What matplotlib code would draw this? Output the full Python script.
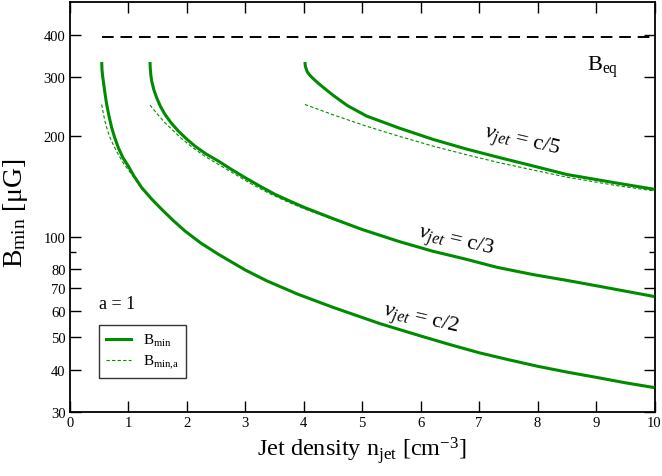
import matplotlib
matplotlib.use("Agg")
import matplotlib.pyplot as plt
from matplotlib.ticker import FixedLocator, NullFormatter
from matplotlib.lines import Line2D

plt.rcParams['font.family'] = ['Liberation Serif', 'DejaVu Serif']
plt.rcParams['mathtext.fontset'] = 'custom'
plt.rcParams['mathtext.rm'] = 'Liberation Serif'
plt.rcParams['mathtext.it'] = 'Liberation Serif:italic'
plt.rcParams['mathtext.bf'] = 'Liberation Serif:bold'

# ---- data ----
c2_x = [0.547, 0.552, 0.562, 0.575, 0.6, 0.632, 0.672, 0.718, 0.771, 0.831, 0.91, 1.002, 1.1,
        1.231, 1.4, 1.573, 1.77, 1.971, 2.24, 2.54, 3.0, 3.367, 3.9, 4.5, 5.3, 6.0, 6.5, 7.0,
        7.5, 8.0, 8.5, 9.0, 9.5, 10.0]
c2_y = [332, 315, 302, 291, 270, 248, 229, 211.3, 197, 184.3, 172, 162.3, 151.5,
        140, 129.5, 120.6, 111.7, 103.9, 95.7, 88.6, 79.5, 73.8, 67.3, 61.5, 55, 50.5, 47.6, 45,
        42.9, 41, 39.4, 38, 36.6, 35.4]
c2a_x = [0.547, 0.575, 0.603, 0.645, 0.689, 0.76, 0.831, 0.91, 1.0, 1.1, 1.231, 1.4, 1.573,
         1.77, 1.971, 2.24, 2.54, 3.0, 3.367, 3.9, 4.5, 5.3, 6.0, 7.0, 8.0, 9.0, 10.0]
c2a_y = [248, 233, 221, 208, 197.5, 185.5, 175.8, 166.5, 158.3, 150, 139, 129, 120.3,
         111.5, 103.8, 95.6, 88.5, 79.4, 73.7, 67.2, 61.4, 55, 50.5, 45, 41, 38, 35.4]

c3_x = [1.373, 1.378, 1.388, 1.402, 1.44, 1.487, 1.55, 1.629, 1.73, 1.857, 2.0, 2.142, 2.33,
        2.54, 2.77, 2.997, 3.25, 3.51, 3.77, 4.022, 4.535, 5.0, 5.646, 6.2, 6.786, 7.3, 7.925,
        8.5, 9.065, 10.0]
c3_y = [332, 317, 303, 291, 274, 259.7, 245, 231.6, 219, 206.6, 195.5, 186.2, 176.5,
        168.1, 158.5, 150, 141.5, 133.7, 127.5, 122, 112.6, 105, 96.5, 90.5, 85.5, 81, 77,
        74, 71.0, 66.2]
c3a_x = [1.373, 1.5, 1.629, 1.77, 1.915, 2.1, 2.314, 2.55, 2.826, 3.1, 3.395, 3.7, 4.022,
         4.535, 5.0, 5.646, 6.2, 6.786, 7.3, 7.925, 8.5, 9.065, 10.0]
c3a_y = [247, 232, 218.7, 207, 196, 184.5, 173.5, 164, 153.5, 143.8, 135, 127.5, 120.8,
         112, 104.7, 96.4, 90.5, 85.5, 81, 77, 74, 71, 66.2]

c5_x = [4.022, 4.03, 4.06, 4.1, 4.165, 4.25, 4.335, 4.506, 4.75, 5.077, 5.646, 6.216,
        6.786, 7.356, 7.925, 8.496, 9.35, 10.0]
c5_y = [332, 322, 311, 304, 296, 287, 279, 264, 246, 229, 210.5, 195,
        182.5, 172, 162.5, 153.3, 144.5, 138.4]
c5a_x = [4.022, 4.535, 5.077, 5.646, 6.216, 6.786, 7.356, 7.925, 8.496, 9.35, 10.0]
c5a_y = [248, 230, 213.5, 199, 186.2, 175.5, 166, 158, 150.5, 142, 136.8]

beq_x = [0.547, 10.0]
beq_y = [395, 395]

xticks = [0, 1, 2, 3, 4, 5, 6, 7, 8, 9, 10]
yticks = [30, 40, 50, 60, 70, 80, 100, 200, 300, 400]
yminor = [90]

GREEN = '#008c00'

fig = plt.figure(figsize=(6.62, 4.77), dpi=100)
ax = fig.add_axes([0.1053, 0.1348, 0.8834, 0.8579])

ax.plot(beq_x, beq_y, color='black', lw=1.4, dashes=(6, 3.5))

for xs, ys in [(c2_x, c2_y), (c3_x, c3_y), (c5_x, c5_y)]:
    ax.plot(xs, ys, color=GREEN, lw=2.2, solid_capstyle='butt', solid_joinstyle='round', zorder=3)
for xs, ys in [(c2a_x, c2a_y), (c3a_x, c3a_y), (c5a_x, c5a_y)]:
    ax.plot(xs, ys, color=GREEN, lw=0.8, dashes=(3, 2), zorder=2)

ax.set_yscale('log')
ax.set_xlim(0, 10)
ax.set_ylim(30, 500)

ax.xaxis.set_major_locator(FixedLocator(xticks))
ax.set_xticklabels([str(t) for t in xticks])
ax.yaxis.set_major_locator(FixedLocator(yticks))
ax.set_yticklabels([str(t) for t in yticks])
ax.yaxis.set_minor_locator(FixedLocator(yminor))
ax.yaxis.set_minor_formatter(NullFormatter())
ax.xaxis.set_minor_locator(FixedLocator([]))

ax.tick_params(which='major', direction='in', length=8, width=1.0, top=True, right=True,
               labelsize=10.5, pad=3)
ax.tick_params(which='minor', direction='in', length=4.5, width=1.0, right=True, left=True)
for s in ax.spines.values():
    s.set_linewidth(1.3)

ax.set_xlabel(r'Jet density n$_{\rm jet}$ [cm$^{-3}$]', fontsize=17.5, labelpad=4)
ax.set_ylabel('B$_{\\rm min}$ [\u03bcG]', fontsize=20)
ax.yaxis.set_label_coords(-0.068, 0.488)

ax.text(8.84, 315, r'B$_{\rm eq}$', fontsize=16, ha='left', va='baseline')
ax.text(7.73, 192, r'$v_{jet}$ = c/5', fontsize=16, ha='center', va='center',
        rotation=-13, rotation_mode='anchor')
ax.text(6.6, 97, r'$v_{jet}$ = c/3', fontsize=16, ha='center', va='center',
        rotation=-13, rotation_mode='anchor')
ax.text(6.0, 56.5, r'$v_{jet}$ = c/2', fontsize=16, ha='center', va='center',
        rotation=-13, rotation_mode='anchor')
ax.text(0.5, 63.2, 'a = 1', fontsize=13, ha='left', va='center')

handles = [Line2D([], [], color=GREEN, lw=2.2),
           Line2D([], [], color=GREEN, lw=0.8, dashes=(3, 2))]
leg = ax.legend(handles, [r'B$_{\rm min}$', r'B$_{\rm min{,}a}$'], loc='lower left',
                bbox_to_anchor=(0.0506, 0.0816), borderaxespad=0, fontsize=11,
                handlelength=1.6, handletextpad=0.8, fancybox=False, frameon=True,
                borderpad=0.45, labelspacing=0.35)
leg.get_frame().set_edgecolor('black')
leg.get_frame().set_linewidth(1.0)

fig.savefig('out.png', dpi=100)
